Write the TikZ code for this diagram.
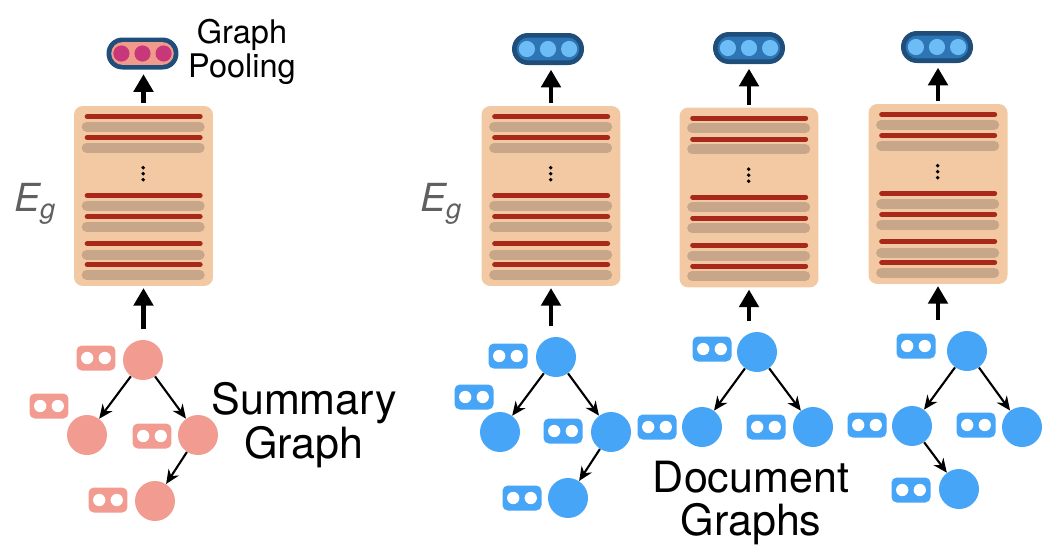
\documentclass[tikz,border=0pt]{standalone}
\usepackage{fontspec}
\setmainfont{TeX Gyre Heros}
\usetikzlibrary{
		positioning,
		arrows.meta
	}
\definecolor{sumnode}{HTML}{F29B91}
\definecolor{docnode}{HTML}{46A5F7}
\definecolor{blockfill}{HTML}{F2C9A2}
\definecolor{redbar}{HTML}{A8281A}
\definecolor{greybar}{HTML}{C8A68A}
\definecolor{pilldark}{HTML}{1F4E7A}
\definecolor{pillmid}{HTML}{2E75B6}
\definecolor{pilldot}{HTML}{6CBCF6}
\definecolor{pinkin}{HTML}{EF9A8A}
\definecolor{pinkdot}{HTML}{C8377A}
\definecolor{labelgrey}{HTML}{606060}
\tikzset{
		>={Stealth[length=8pt,width=7pt]},
		gnode/.style={circle, fill=#1, minimum size=0.8cm, inner sep=0pt},
		badge/.style={rectangle, rounded corners=3pt, fill=#1, minimum width=0.78cm, minimum height=0.5cm, inner sep=0pt,
			path picture={
				\fill[white] ([xshift=-5pt]path picture bounding box.center) circle (3.5pt);
				\fill[white] ([xshift=5pt]path picture bounding box.center) circle (3.5pt);
			}},
		encblock/.style={rectangle, rounded corners=5pt, fill=blockfill, minimum width=2.78cm, minimum height=3.6cm, inner sep=0pt},
		pill/.style 2 args={rectangle, rounded corners=9pt, fill=pilldark, minimum width=1.44cm, minimum height=0.64cm, inner sep=0pt,
			path picture={
				\fill[#1, rounded corners=6.5pt] ([shift={(-17.8pt,-6.5pt)}]path picture bounding box.center) rectangle ++(35.6pt,13pt);
				\foreach \d in {-12pt,0pt,12pt} \fill[#2] ([xshift=\d]path picture bounding box.center) circle (4.6pt);
			}},
		treeedge/.style={->, line width=1.2pt},
		uparrow/.style={-{Triangle[length=10pt,width=11pt]}, line width=2.3pt},
		redstripe/.style={redbar, line width=2.85pt, line cap=round},
		greystripe/.style={greybar, line width=5.7pt, line cap=round},
		biglabel/.style={align=center, font=\fontsize{24.5}{25}\selectfont},
		eglabel/.style={text=labelgrey, font=\fontsize{22}{22}\selectfont\itshape, inner sep=0pt, anchor=base west}
	}

\begin{document}
\begin{tikzpicture}[x=0.02cm, y=-0.02cm]
		\useasboundingbox (0,0) rectangle (1064,556);
		% Encoder blocks
		\node[encblock] (enc0) at (143.5,196) {};
		\node[encblock] (enc1) at (551,196) {};
		\node[encblock] (enc2) at (749,197.5) {};
		\node[encblock] (enc3) at (938,194) {};
		% Stripes
		\foreach \b in {enc0,enc1,enc2,enc3} {
			\begin{scope}[shift={(\b.north west)}]
				\foreach \t in {11,32,90,111,138,159} \draw[redstripe] (13.5,\t) -- (126.5,\t);
				\foreach \t in {21,42,100,121,149,169} \draw[greystripe] (13,\t) -- (126,\t);
				\foreach \t in {62,68,74} \fill (69.5,\t) circle (1.1pt);
			\end{scope}
		}
		% Pooled vectors
		\node[pill={pinkin}{pinkdot}] (pool0) at (142.5,53.5) {};
		\node[pill={pillmid}{pilldot}] (pool1) at (548,49) {};
		\node[pill={pillmid}{pilldot}] (pool2) at (749,48) {};
		\node[pill={pillmid}{pilldot}] (pool3) at (937,47) {};
		\foreach \i in {0,...,3} {
			\draw[uparrow, shorten <=1.5pt, shorten >=2.5pt] (enc\i.north) -- (enc\i.north |- pool\i.south);
		}
		% Labels
		\node[font=\fontsize{18.5}{19}\selectfont, align=center] (pooltxt) at (242,52) {Graph\\Pooling};
		\node[eglabel] (eg0) at (14,211) {E\raisebox{-4pt}{\fontsize{15.5}{16}\selectfont g}};
		\node[eglabel] (eg1) at (420,211) {E\raisebox{-4pt}{\fontsize{15.5}{16}\selectfont g}};
		\node[biglabel] (sumtxt) at (304,425) {Summary\\Graph};
		\node[biglabel] (doctxt) at (751,503) {Document\\Graphs};
		% Summary graph
		\node[gnode=sumnode] (s0) at (143,360) {};
		\node[gnode=sumnode] (s1) at (87,435) {};
		\node[gnode=sumnode] (s2) at (198,435) {};
		\node[gnode=sumnode] (s3) at (155,501) {};
		\node[badge=sumnode] (sb0) at (96,358) {};
		\node[badge=sumnode] (sb1) at (49,406) {};
		\node[badge=sumnode] (sb2) at (152,436) {};
		\node[badge=sumnode] (sb3) at (108,500) {};
		\draw[treeedge] (s0) -- (s1);
		\draw[treeedge] (s0) -- (s2);
		\draw[treeedge] (s2) -- (s3);
		% Document graphs
		\node[gnode=docnode] (a0) at (556,357) {};
		\node[gnode=docnode] (a1) at (500,432) {};
		\node[gnode=docnode] (a2) at (611,432) {};
		\node[gnode=docnode] (a3) at (568,498) {};
		\node[badge=docnode] (ab0) at (508,356) {};
		\node[badge=docnode] (ab1) at (474,397) {};
		\node[badge=docnode] (ab2) at (563,431) {};
		\node[badge=docnode] (ab3) at (522,498) {};
		\draw[treeedge] (a0) -- (a1);
		\draw[treeedge] (a0) -- (a2);
		\draw[treeedge] (a2) -- (a3);
		\node[gnode=docnode] (b0) at (757,352) {};
		\node[gnode=docnode] (b1) at (702,427) {};
		\node[gnode=docnode] (b2) at (813,427) {};
		\node[badge=docnode] (bb0) at (712,349) {};
		\node[badge=docnode] (bb1) at (657,427) {};
		\node[badge=docnode] (bb2) at (766,427) {};
		\draw[treeedge] (b0) -- (b1);
		\draw[treeedge] (b0) -- (b2);
		\node[gnode=docnode] (c0) at (967,351) {};
		\node[gnode=docnode] (c1) at (912,426) {};
		\node[gnode=docnode] (c2) at (1022,427) {};
		\node[gnode=docnode] (c3) at (959,489) {};
		\node[badge=docnode] (cb0) at (916,346) {};
		\node[badge=docnode] (cb1) at (867,425) {};
		\node[badge=docnode] (cb2) at (976,425) {};
		\node[badge=docnode] (cb3) at (911,490) {};
		\draw[treeedge] (c0) -- (c1);
		\draw[treeedge] (c0) -- (c2);
		\draw[treeedge] (c1) -- (c3);
		% Graph to encoder
		\draw[uparrow, shorten <=6pt, shorten >=1pt] (enc0.south |- s0.north) -- (enc0.south);
		\draw[uparrow, shorten <=6pt, shorten >=1pt] (enc1.south |- a0.north) -- (enc1.south);
		\draw[uparrow, shorten <=6pt, shorten >=1pt] (enc2.south |- b0.north) -- (enc2.south);
		\draw[uparrow, shorten <=6pt, shorten >=1pt] (enc3.south |- c0.north) -- (enc3.south);
	\end{tikzpicture}
\end{document}
